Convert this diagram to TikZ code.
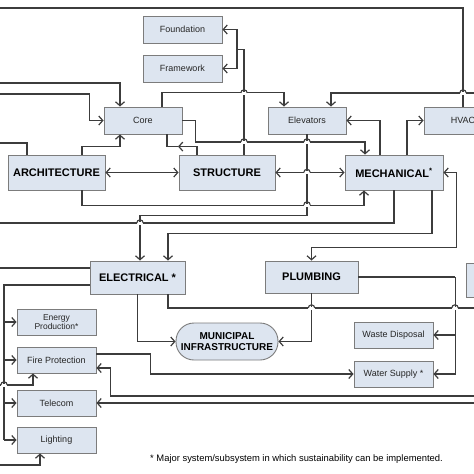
\documentclass[tikz,border=0pt]{standalone}
\usepackage{fontspec}
\setmainfont{Liberation Sans}
\usetikzlibrary{arrows.meta}
\definecolor{boxfill}{HTML}{DDE5F0}
\definecolor{boxline}{HTML}{7C7C7C}
\definecolor{conncol}{HTML}{3C3C3C}
\tikzset{
  box/.style={draw=boxline, fill=boxfill, line width=0.9pt, inner sep=0pt, align=center, text=black!85, font=\fontsize{9}{10}\selectfont},
  bigbox/.style={box, font=\bfseries\fontsize{11}{12}\selectfont, text=black},
  conn/.style={draw=conncol, line width=1.2pt},
  arr/.style={conn, -{Straight Barb[length=4pt,width=9pt]}},
  darr/.style={conn, {Straight Barb[length=4pt,width=9pt]}-{Straight Barb[length=4pt,width=9pt]}},
  hop/.style={conn, line width=1.1pt},
}
\newcommand\hopat[2]{\fill[white] (#1-3.2,#2-1.5) rectangle (#1+3.2,#2+1.5);
  \draw[hop] (#1-3.2,#2) arc[start angle=180,end angle=0,radius=3.2pt];}
\begin{document}
\begin{tikzpicture}[x=1pt,y=-1pt]
\useasboundingbox (0,0) rectangle (474,474);
\clip (0,0) rectangle (474,474);
\fill[white] (0,0) rectangle (474,474);
% nodes
\node[box, minimum width=79pt, minimum height=27pt] (fnd) at (182.5,29.5) {Foundation};
\node[box, minimum width=79pt, minimum height=27pt] (frw) at (182.5,68.5) {Framework};
\node[box, minimum width=78pt, minimum height=27pt] (core) at (143,120.5) {Core};
\node[box, minimum width=78pt, minimum height=27pt] (elev) at (307,120.5) {Elevators};
\node[box, minimum width=78pt, minimum height=27pt] (hvac) at (463,120.5) {HVAC};
\node[bigbox, minimum width=97pt, minimum height=35pt] (arch) at (56.5,172.5) {ARCHITECTURE};
\node[bigbox, minimum width=96pt, minimum height=35pt] (str) at (227,172.5) {STRUCTURE};
\node[bigbox, minimum width=98pt, minimum height=35pt] (mech) at (394,172.5) {MECHANICAL\textsuperscript{*}};
\node[bigbox, minimum width=95pt, minimum height=33pt] (elec) at (137.5,277.5) {ELECTRICAL *};
\node[bigbox, minimum width=93pt, minimum height=32pt] (plmb) at (311.5,277) {PLUMBING};
\node[box, minimum width=60pt, minimum height=34pt, anchor=west] (rbox) at (466,280) {};
\node[box, font=\bfseries\fontsize{10}{11}\selectfont, text=black, minimum width=102pt, minimum height=37pt, rounded corners=18pt] (muni) at (227,341.5) {MUNICIPAL\\INFRASTRUCTURE};
\node[box, font=\fontsize{8.5}{9.5}\selectfont, minimum width=79pt, minimum height=26pt] (enp) at (56.5,322) {Energy\\Production*};
\node[box, minimum width=79pt, minimum height=26pt] (fire) at (56.5,360) {Fire Protection};
\node[box, minimum width=79pt, minimum height=26pt] (tel) at (56.5,403) {Telecom};
\node[box, minimum width=79pt, minimum height=26pt] (lig) at (56.5,440) {Lighting};
\node[box, minimum width=79pt, minimum height=26pt] (wd) at (393.5,335) {Waste Disposal};
\node[box, minimum width=79pt, minimum height=26pt] (ws) at (393.5,374) {Water Supply *};
\node[anchor=west, inner sep=0pt, font=\fontsize{9.4}{10}\selectfont] (note) at (150,459) {* Major system/subsystem in which sustainability can be implemented.};
% off-image ends
\coordinate (oTop) at (-10,8);
\coordinate (oL83) at (-10,83);
\coordinate (oL94) at (-10,94);
\coordinate (oR93) at (484,93);
\coordinate (oL143) at (-10,143);
\coordinate (oL223) at (-10,223);
\coordinate (oL268) at (-10,268);
\coordinate (oR308) at (484,308);
\coordinate (oL385) at (-10,385);
\coordinate (oL465) at (-10,465);
\coordinate (oR396) at (484,396);
\coordinate (oR403) at (484,403);
\coordinate (bus) at (4,285);
% connectors
\draw[conn] (hvac.north) |- (oTop);
\draw[arr] (oL83) -| ([xshift=-23pt]core.north);
\draw[arr] (oL94) -| ([xshift=-14pt]core.west) -- (core.west);
\draw[conn] ([xshift=17pt]str.north) -- ++(0,-105) -- ++(-7,0) coordinate (fj);
\draw[arr] (fj) |- (fnd.east);
\draw[arr] (fj) |- (frw.east);
\draw[arr] (elev.south) -- ++(0,81) -| ([xshift=2.5pt]elec.north);
\draw[arr] ([xshift=-14pt]mech.north) |- (elev.east);
\draw[arr] ([xshift=13pt]mech.north) |- (hvac.west);
\draw[arr] ([xshift=19pt]core.north) -- ++(0,-14) -| ([xshift=-23pt]elev.north);
\draw[arr] (oR93) -| ([xshift=24pt]elev.north);
\draw[arr] (core.east) -- ++(13,0) -- ++(0,21.5) -| ([xshift=-29pt]mech.north);
\draw[arr] ([xshift=-30pt]str.north) -- ++(0,-8) -- ++(-19,0) coordinate (m8);
\draw[conn] (m8) -| ([xshift=24pt]core.south);
\draw[arr] ([xshift=25.5pt]arch.north) -- ++(0,-8) -| ([xshift=-23pt]core.south);
\draw[conn] ([xshift=-29.5pt]arch.north) |- (oL143);
\draw[darr] (arch.east) -- (str.west);
\draw[darr] (str.east) -- (mech.west);
\draw[arr] ([xshift=25.5pt]arch.south) -- ++(0,15) -| ([xshift=-30pt]mech.south);
\draw[conn] (mech.south) |- (oL223);
\draw[arr] ([xshift=38pt]mech.south) -- ++(0,43) -| ([xshift=30.5pt]elec.north);
\draw[darr] (plmb.north) -- ++(0,-13) -| ([xshift=13pt]mech.east) -- (mech.east);
\draw[conn] ([yshift=9.5pt]elec.west) -- (oL268);
\draw[conn] ([yshift=-7.5pt]elec.west) -- (bus) -- (bus |- lig.west);
\draw[arr] (bus |- enp.west) -- (enp.west);
\draw[arr] (bus |- fire.west) -- (fire.west);
\draw[arr] (bus |- tel.west) -- (tel.west);
\draw[arr] (bus |- lig.west) -- (lig.west);
\draw[arr] (elec.south) |- (muni.west);
\draw[conn] (plmb.east) -- ++(97,0) coordinate (pj);
\draw[arr] (pj) |- (wd.east);
\draw[arr] (pj) |- (ws.east);
\draw[arr] (plmb.south) |- (muni.east);
\draw[conn] ([xshift=30.5pt]elec.south) |- (oR308);
\draw[arr] (oL385) -| ([xshift=-23.5pt]fire.south);
\draw[arr] (oL465) -| ([xshift=-16.5pt]lig.south);
\draw[arr] ([yshift=6pt]fire.east) -- ++(54,0) |- (ws.west);
\draw[arr] (oR396) -| ([xshift=14pt,yshift=-8pt]fire.east) -- ([yshift=-8pt]fire.east);
\draw[arr] (oR403) -- (tel.east);
% hops at crossings
\hopat{244}{93}
\hopat{463}{93}
\hopat{244}{142}
\hopat{307}{142}
\hopat{307}{172.5}
\hopat{307}{205}
\hopat{140}{223}
\hopat{311.5}{308}
\hopat{455}{308}
\hopat{4}{385}
\end{tikzpicture}
\end{document}
